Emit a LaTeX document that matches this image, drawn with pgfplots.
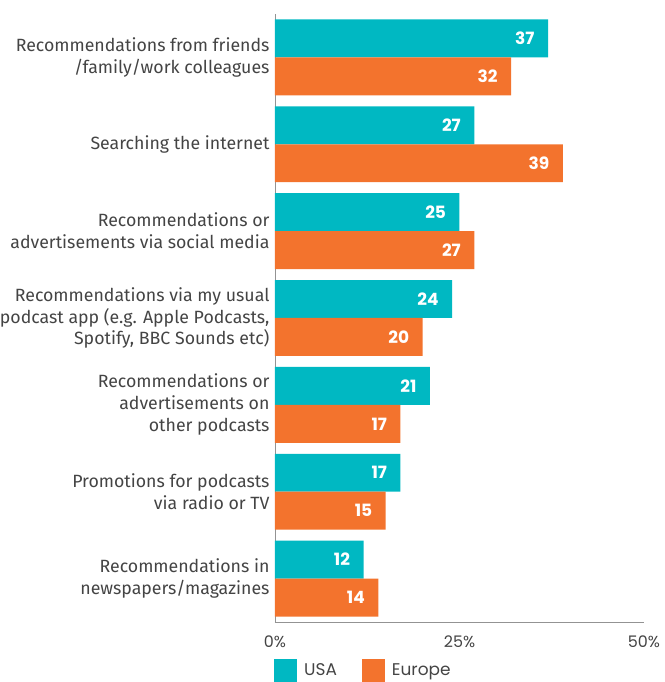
\documentclass[border=0pt]{standalone}
\usepackage{pgfplots}
\pgfplotsset{compat=1.18}
\usepackage{fontspec}
\setmainfont{Fira Sans}
\newfontfamily\pop{Poppins}
\definecolor{tealc}{HTML}{00B8C2}
\definecolor{orng}{HTML}{F3732D}
\definecolor{txt}{HTML}{444444}
\begin{document}
\begin{tikzpicture}
\path[use as bounding box] (-275bp,-60bp) rectangle (390bp,622bp);
\begin{axis}[
  scale only axis, width=369bp, height=608bp,
  xbar, xmin=0, xmax=50, ymin=-0.5, ymax=6.5,
  bar width=0.437,
  /pgf/number format/assume math mode=true,
  axis x line=bottom, axis y line=left,
  axis line style={-, draw=gray!85, line width=0.9bp},
  xtick={0,25,50}, xticklabels={0\%,25\%,50\%},
  xticklabel style={font=\pop\fontsize{16}{18}\selectfont, text=txt, yshift=-10bp},
  ytick={0,...,6},
  yticklabels={{Recommendations in\\newspapers/magazines},
    {Promotions for podcasts\\via radio or TV},
    {Recommendations or\\advertisements on\\other podcasts},
    {Recommendations via my usual\\podcast app (e.g. Apple Podcasts,\\Spotify, BBC Sounds etc)},
    {Recommendations or\\advertisements via social media},
    {Searching the internet},
    {Recommendations from friends\\/family/work colleagues}},
  yticklabel style={align=right, font=\fontsize{17.8}{22}\selectfont, text=txt, xshift=-2bp},
  major tick length=0,
  nodes near coords,
  every node near coord/.append style={anchor=east, text=white, font=\pop\bfseries\fontsize{17}{20}\selectfont, xshift=-10bp},
  legend style={at={(0,0)}, anchor=north west, xshift=-4bp, yshift=-35bp, draw=none, fill=none,
    legend columns=2, font=\pop\fontsize{17}{20}\selectfont, text=txt,
    /tikz/every even column/.append style={column sep=23bp}},
  legend image code/.code={\fill[#1] (0bp,-11.5bp) rectangle (23bp,11.5bp);},
  legend cell align=left,
]
\addplot[fill=tealc, draw=none, bar shift=0.2185] coordinates {(12,0) (17,1) (21,2) (24,3) (25,4) (27,5) (37,6)};
\addlegendentry{\hspace{5bp}USA}
\addplot[fill=orng, draw=none, bar shift=-0.2185] coordinates {(14,0) (15,1) (17,2) (20,3) (27,4) (39,5) (32,6)};
\addlegendentry{\hspace{5bp}Europe}
\end{axis}
\end{tikzpicture}
\end{document}
